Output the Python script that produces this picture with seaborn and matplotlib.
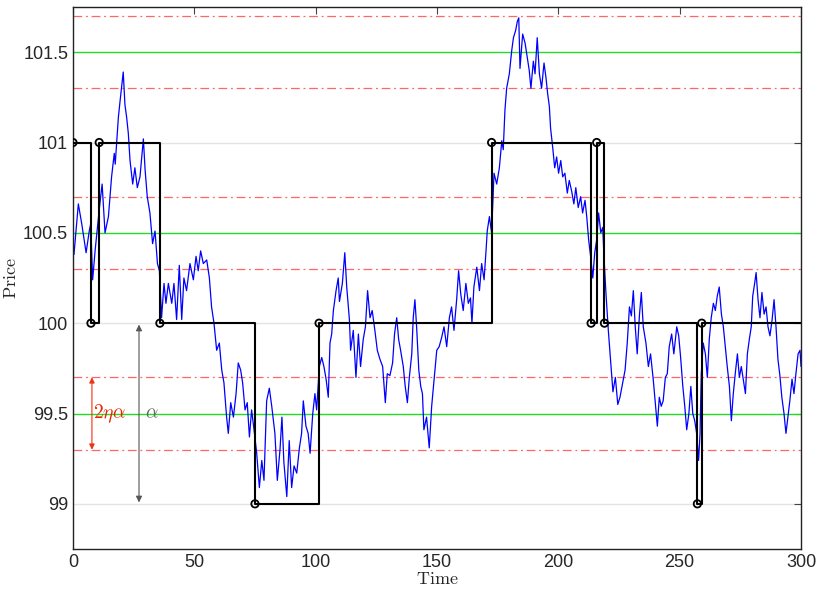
import matplotlib
matplotlib.use("Agg")
import matplotlib.pyplot as plt
import seaborn as sns
import numpy as np
import pandas as pd

# ---- data ----
path_time = [0.4, 2.2, 3.6, 5.4, 6.7, 7.3, 8.1, 9.1, 10.9, 12.0, 13.2, 14.6, 15.9, 17.0, 17.4,
             18.7, 19.4, 20.7, 21.4, 22.1, 22.8, 23.5, 24.6, 25.5, 26.5, 27.6, 29.0, 29.7, 30.6,
             31.7, 32.8, 33.8, 34.8, 35.6, 36.5, 37.5, 38.3, 39.3, 40.7, 41.6, 42.7, 43.8, 44.8,
             45.7, 46.8, 48.2, 49.6, 50.7, 51.6, 52.6, 53.7, 55.1, 56.2, 57.1, 58.1, 59.2, 60.3,
             61.3, 62.2, 63.3, 64.0, 65.0, 66.1, 67.2, 68.1, 69.1, 69.9, 70.9, 71.8, 72.7, 73.6,
             74.6, 75.7, 76.8, 77.8, 78.7, 79.8, 80.9, 81.9, 83.2, 84.2, 85.3, 86.1, 86.9, 88.1,
             89.1, 90.1, 91.1, 92.2, 93.3, 94.2, 94.9, 96.0, 96.9, 97.7, 98.8, 99.7, 100.4, 101.5,
             102.5, 103.4, 104.3, 105.2, 105.9, 106.6, 107.3, 108.4, 109.3, 109.8, 111.0, 112.0,
             112.8, 113.9, 114.4, 115.5, 116.6, 117.6, 118.5, 119.6, 120.5, 121.4, 122.4, 123.3,
             124.4, 125.4, 126.5, 127.6, 128.7, 129.5, 130.6, 131.7, 132.5, 133.4, 134.2, 135.0,
             136.1, 136.9, 137.8, 138.6, 139.6, 140.2, 140.9, 141.6, 142.5, 143.3, 144.0, 144.6,
             145.7, 146.8, 147.8, 148.8, 149.9, 150.9, 151.9, 152.9, 154.0, 155.1, 156.0, 157.0,
             158.1, 158.9, 159.8, 160.8, 161.9, 162.9, 163.8, 164.4, 165.2, 166.4, 167.5, 168.4,
             169.4, 170.2, 170.7, 171.6, 172.5, 173.5, 174.6, 175.7, 176.7, 177.3, 178.0, 178.7,
             179.8, 180.8, 181.5, 182.4, 183.1, 183.7, 184.2, 185.3, 186.3, 187.2, 188.0, 188.7,
             189.7, 190.4, 191.3, 192.2, 193.1, 194.1, 194.9, 195.6, 196.3, 196.8, 197.7, 198.5,
             199.3, 200.1, 201.0, 201.8, 202.7, 203.7, 204.5, 205.5, 206.4, 207.2, 208.2, 209.2,
             210.0, 211.0, 211.7, 212.5, 213.3, 214.2, 215.0, 215.8, 216.6, 217.5, 218.3, 218.8,
             219.6, 220.6, 221.5, 222.5, 223.5, 224.5, 225.4, 226.5, 227.5, 228.4, 229.3, 230.1,
             230.9, 231.7, 232.5, 233.4, 234.2, 235.0, 236.1, 237.1, 238.0, 239.1, 239.9, 240.8,
             241.6, 242.4, 243.2, 244.1, 244.9, 245.7, 246.7, 247.6, 248.8, 249.6, 250.4, 251.3,
             252.1, 252.9, 253.8, 254.6, 255.4, 256.2, 257.0, 257.8, 258.4, 258.9, 259.7, 260.6,
             261.4, 262.2, 263.0, 263.9, 264.7, 265.5, 266.3, 267.2, 268.0, 268.8, 269.6, 270.5,
             271.3, 272.1, 272.9, 273.8, 274.6, 275.4, 276.2, 277.1, 277.9, 278.7, 279.5, 280.1,
             280.9, 281.5, 282.3, 283.1, 283.9, 284.8, 285.6, 286.4, 287.2, 288.1, 288.9, 289.7,
             290.5, 291.3, 292.1, 293.0, 293.8, 294.6, 295.4, 296.3, 297.1, 297.9, 298.8, 299.6,
             300.0]
path_price = [100.38, 100.66, 100.55, 100.39, 100.51, 100.55, 100.24, 100.40, 100.64, 100.77,
              100.50, 100.59, 100.81, 100.94, 100.88, 101.14, 101.23, 101.39, 101.21, 101.14,
              101.05, 100.90, 100.77, 100.86, 100.75, 100.81, 101.02, 100.85, 100.70, 100.61,
              100.44, 100.51, 100.33, 100.29, 100.03, 100.22, 100.11, 100.22, 100.11, 100.22,
              100.02, 100.32, 100.02, 100.25, 100.18, 100.33, 100.24, 100.37, 100.29, 100.40,
              100.33, 100.35, 100.25, 100.09, 100.00, 99.85, 99.89, 99.74, 99.67, 99.48, 99.39,
              99.56, 99.48, 99.61, 99.78, 99.74, 99.67, 99.52, 99.56, 99.37, 99.52, 99.41,
              99.28, 99.09, 99.24, 99.13, 99.57, 99.64, 99.54, 99.39, 99.13, 99.30, 99.48,
              99.23, 99.04, 99.35, 99.09, 99.21, 99.17, 99.31, 99.39, 99.57, 99.43, 99.39,
              99.28, 99.50, 99.61, 99.52, 99.76, 99.81, 99.76, 99.69, 99.59, 99.89, 99.94,
              100.07, 100.18, 100.25, 100.12, 100.22, 100.39, 100.20, 100.02, 99.85, 99.96,
              99.70, 99.94, 99.76, 99.91, 99.98, 100.18, 100.03, 100.07, 99.96, 99.85, 99.80,
              99.76, 99.56, 99.72, 99.71, 99.78, 99.94, 100.03, 99.91, 99.85, 99.76, 99.65,
              99.56, 99.70, 99.83, 100.03, 100.13, 99.98, 99.74, 99.65, 99.61, 99.41, 99.48,
              99.31, 99.54, 99.69, 99.85, 99.87, 99.92, 99.98, 99.87, 100.03, 100.09, 99.96,
              100.13, 100.29, 100.16, 100.07, 100.22, 100.11, 100.14, 100.00, 100.20, 100.31,
              100.18, 100.33, 100.24, 100.40, 100.51, 100.59, 100.50, 100.83, 100.77, 100.86,
              101.01, 100.96, 101.18, 101.30, 101.38, 101.51, 101.58, 101.62, 101.67, 101.69,
              101.41, 101.60, 101.55, 101.47, 101.40, 101.30, 101.45, 101.38, 101.58, 101.38,
              101.30, 101.44, 101.36, 101.27, 101.20, 101.08, 100.97, 100.86, 100.92, 100.83,
              100.90, 100.81, 100.83, 100.72, 100.79, 100.73, 100.66, 100.75, 100.64, 100.70,
              100.61, 100.68, 100.59, 100.46, 100.37, 100.25, 100.39, 100.46, 100.61, 100.50,
              100.53, 100.37, 100.17, 99.96, 99.80, 99.62, 99.70, 99.55, 99.59, 99.67, 99.74,
              99.89, 100.09, 100.04, 100.18, 99.98, 99.83, 100.04, 100.17, 99.98, 99.89, 99.76,
              99.83, 99.69, 99.57, 99.43, 99.59, 99.54, 99.57, 99.70, 99.72, 99.87, 99.94,
              99.83, 99.98, 99.93, 99.81, 99.65, 99.54, 99.41, 99.50, 99.65, 99.50, 99.46,
              99.39, 99.24, 99.39, 99.72, 99.89, 99.83, 99.70, 99.91, 100.03, 100.11, 100.07,
              100.15, 100.20, 100.05, 99.98, 99.87, 99.76, 99.65, 99.46, 99.61, 99.72, 99.83,
              99.70, 99.76, 99.69, 99.61, 99.83, 99.91, 99.98, 100.15, 100.22, 100.28, 100.13,
              100.03, 100.17, 100.05, 100.09, 99.98, 99.93, 100.02, 100.13, 99.98, 99.80, 99.71,
              99.59, 99.50, 99.39, 99.48, 99.57, 99.69, 99.61, 99.72, 99.83, 99.85, 99.76]

step_time = [0, 7.4, 10.8, 35.8, 75.0, 101.4, 172.5, 213.5, 215.8, 219.0, 257.3, 259.1, 300]
step_price = [101, 100, 101, 100, 99, 100, 101, 100, 101, 100, 99, 100, 100]

tick_levels = [99, 100, 101]
mid_levels = [99.5, 100.5, 101.5]
band_levels = [99.3, 99.7, 100.3, 100.7, 101.3, 101.7]
x_ticks = [0, 50, 100, 150, 200, 250, 300]
y_ticks = [99, 99.5, 100, 100.5, 101, 101.5]
y_tick_labels = ["99", "99.5", "100", "100.5", "101", "101.5"]

# ---- figure ----
sns.set_style("white")
plt.rcParams["font.family"] = ["Liberation Sans", "DejaVu Sans"]
plt.rcParams["mathtext.fontset"] = "cm"

fig = plt.figure(figsize=(8.3, 5.89), dpi=100)
ax = fig.add_axes([73 / 830, 40 / 589, 728 / 830, 542 / 589])

for lv in tick_levels:
    ax.axhline(lv, color="#e3e3e3", lw=1.0, zorder=0)
for lv in mid_levels:
    ax.axhline(lv, color="#22dd22", lw=1.0, zorder=1)
for lv in band_levels:
    ax.axhline(lv, color="#ff6666", lw=0.9, ls=(0, (7, 3, 1.5, 3)), zorder=1)

path_df = pd.DataFrame({"Time": path_time, "Price": path_price})
sns.lineplot(data=path_df, x="Time", y="Price", ax=ax, color="blue", lw=0.9,
             sort=False, estimator=None, zorder=2)

step_df = pd.DataFrame({"Time": step_time, "Price": step_price})
sns.lineplot(data=step_df, x="Time", y="Price", ax=ax, color="black", lw=1.5,
             drawstyle="steps-post", sort=False, estimator=None, zorder=3)
sns.scatterplot(data=step_df.iloc[:-1], x="Time", y="Price", ax=ax, marker="o", s=28,
                facecolors="none", edgecolor="black", linewidth=1.3, zorder=4)

# annotations
ax.annotate("", xy=(7.8, band_levels[0]), xytext=(7.8, band_levels[1]),
            arrowprops=dict(arrowstyle="<|-|>", color="#ee3311", lw=0.8,
                            mutation_scale=8, shrinkA=0, shrinkB=0), zorder=5)
ax.text(8.4, mid_levels[0], r"$2\eta\alpha$", color="#ee2200", fontsize=14,
        va="center", ha="left")
ax.annotate("", xy=(27.2, tick_levels[0]), xytext=(27.2, tick_levels[1]),
            arrowprops=dict(arrowstyle="<|-|>", color="#555555", lw=0.8,
                            mutation_scale=9, shrinkA=1, shrinkB=1), zorder=5)
ax.text(29.5, mid_levels[0], r"$\alpha$", color="#666666", fontsize=14,
        va="center", ha="left")

ax.set_xlim(0, 300)
ax.set_ylim(98.75, 101.75)
ax.set_xticks(x_ticks)
ax.set_yticks(y_ticks)
ax.set_yticklabels(y_tick_labels)
ax.tick_params(direction="in", top=True, right=True, length=5, width=0.8,
               labelsize=13, color="#444444")
ax.set_xlabel(r"$\mathrm{Time}$", fontsize=13, labelpad=0)
ax.set_ylabel(r"$\mathrm{Price}$", fontsize=13, labelpad=2)
for sp in ax.spines.values():
    sp.set_color("#222222")
    sp.set_linewidth(1.0)

fig.savefig("out.png", dpi=100)
